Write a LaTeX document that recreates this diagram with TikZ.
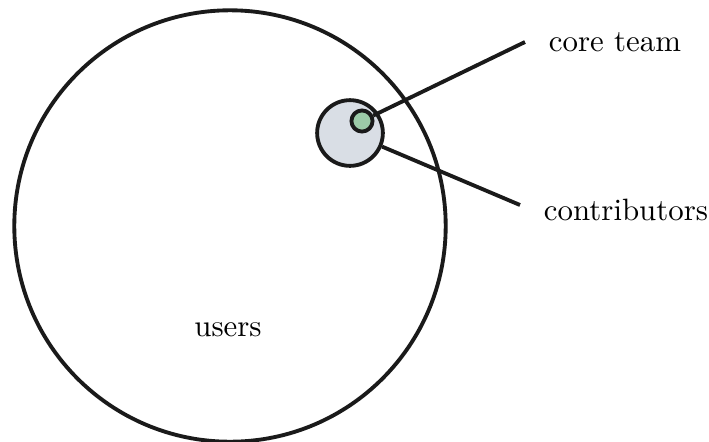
\documentclass[tikz,border=0pt]{standalone}
\usepackage{xcolor}
\usepackage{tikz}
\usetikzlibrary{positioning,calc}
\definecolor{haze}{HTML}{D9DEE5}
\definecolor{sage}{HTML}{9CCBA8}
\definecolor{ink}{HTML}{1A1A1A}

\begin{document}
\begin{tikzpicture}[
  x=0.35pt, y=0.35pt,
  ring/.style={circle, draw=ink, line width=1.35pt, inner sep=0pt},
  leader/.style={draw=ink, line width=1.35pt},
  tag/.style={font=\fontsize{10.8}{13}\selectfont, inner sep=0pt}
]
  \useasboundingbox (0,0) rectangle (709,441);

  \node[ring, minimum size=151pt] (users) at (230,215) {};
  \node[ring, fill=haze, minimum size=23pt] (contrib) at (350,308) {};
  \node[ring, fill=sage, minimum size=7.4pt] (core) at (362,320) {};

  \node[tag] (userslbl) at (228,111) {users};
  \node[tag] (corelbl) at (615,399) {core team};
  \node[tag] (contriblbl) at (626,231) {contributors};

  \coordinate (coreend) at (525,399);
  \coordinate (contribend) at (520,236);

  \draw[leader] (core) -- (coreend);
  \draw[leader] (contrib) -- (contribend);
\end{tikzpicture}
\end{document}
